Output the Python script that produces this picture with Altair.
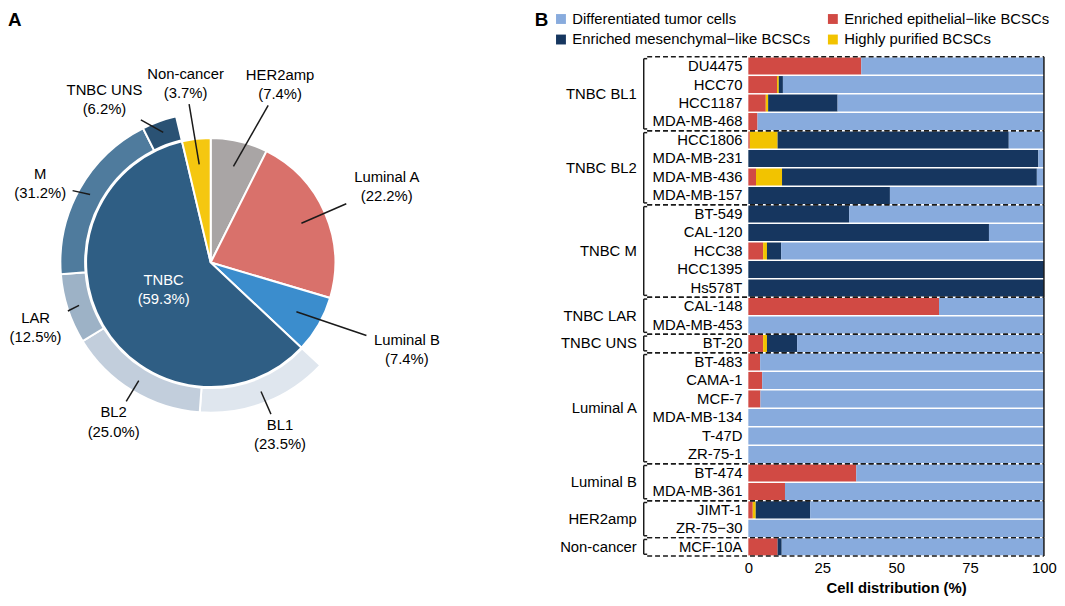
import math
import altair as alt
import pandas as pd

# ---------------- data ----------------
pie_labels = ["HER2amp", "Luminal A", "Luminal B", "TNBC", "Non-cancer"]
pie_values = [7.4, 22.2, 7.4, 59.3, 3.7]

ring_labels = ["BL1", "BL2", "LAR", "M", "TNBC UNS"]
ring_values = [23.5, 25.0, 12.5, 31.2, 6.2]

group_names = ["TNBC BL1", "TNBC BL2", "TNBC M", "TNBC LAR", "TNBC UNS",
               "Luminal A", "Luminal B", "HER2amp", "Non-cancer"]
group_sizes = [4, 4, 5, 2, 1, 6, 2, 2, 1]

cells = ["DU4475", "HCC70", "HCC1187", "MDA-MB-468",
         "HCC1806", "MDA-MB-231", "MDA-MB-436", "MDA-MB-157",
         "BT-549", "CAL-120", "HCC38", "HCC1395", "Hs578T",
         "CAL-148", "MDA-MB-453",
         "BT-20",
         "BT-483", "CAMA-1", "MCF-7", "MDA-MB-134", "T-47D", "ZR-75-1",
         "BT-474", "MDA-MB-361",
         "JIMT-1", "ZR-75\u221230",
         "MCF-10A"]

epithelial = [38.2, 9.7, 5.9, 3.1,
              0.5, 0.0, 2.6, 0.0,
              0.0, 0.0, 5.0, 0.0, 0.0,
              64.5, 0.0,
              5.0,
              4.0, 4.7, 4.1, 0.0, 0.0, 0.0,
              36.5, 12.4,
              1.5, 0.0,
              9.9]
purified = [0.0, 0.6, 0.8, 0.0,
            9.4, 0.0, 8.8, 0.0,
            0.0, 0.0, 1.3, 0.0, 0.0,
            0.0, 0.0,
            1.3,
            0.0, 0.0, 0.0, 0.0, 0.0, 0.0,
            0.0, 0.0,
            1.0, 0.0,
            0.0]
mesenchymal = [0.0, 1.4, 23.5, 0.0,
               78.2, 98.1, 86.2, 47.9,
               34.1, 81.4, 4.8, 100.0, 100.0,
               0.0, 0.0,
               10.2,
               0.0, 0.0, 0.0, 0.0, 0.0, 0.0,
               0.0, 0.0,
               18.4, 0.0,
               1.4]
differentiated = [61.8, 88.3, 69.8, 96.9,
                  11.9, 1.9, 2.4, 52.1,
                  65.9, 18.6, 88.9, 0.0, 0.0,
                  35.5, 100.0,
                  83.5,
                  96.0, 95.3, 95.9, 100.0, 100.0, 100.0,
                  63.5, 87.6,
                  79.1, 100.0,
                  88.7]

series_names = ["Differentiated tumor cells",
                "Enriched epithelial\u2212like BCSCs",
                "Enriched mesenchymal\u2212like BCSCs",
                "Highly purified BCSCs"]

# ---------------- styles ----------------
FONT = "Liberation Sans, Arial, Helvetica, sans-serif"
FS = 15
LH = 19.5
INK = "#1a1a1a"
series_color_map = {series_names[0]: "#88abdd", series_names[1]: "#d14a44",
                    series_names[2]: "#16365f", series_names[3]: "#f2c300"}
# legend is filled column by column: put entries so rows read as in the reference
legend_order = [series_names[0], series_names[2], series_names[1], series_names[3]]
pie_color_map = {"HER2amp": "#a9a5a5", "Luminal A": "#d9716b", "Luminal B": "#3b8dcd",
                 "TNBC": "#2f5e84", "Non-cancer": "#f5c710",
                 "BL1": "#dfe6ee", "BL2": "#c2cedc", "LAR": "#9db2c6",
                 "M": "#4f7b9d", "TNBC UNS": "#2a5274"}
# label nudges: (angle shift in degrees, label radius in px)
label_nudge = {"HER2amp": (8, 193), "Luminal A": (0, 194), "Luminal B": (-6, 217),
               "Non-cancer": (-1.3, 183), "M": (-4.5, 190), "TNBC UNS": (-13, 197),
               "LAR": (-2.4, 189), "BL1": (-0.6, 188), "BL2": (0, 189)}
R_LAB_DEFAULT = 190


def nudge_expr(idx, default):
    expr = str(default)
    for k, v in label_nudge.items():
        expr = f"(datum.label == '{k}' ? {v[idx]} : {expr})"
    return expr


# ---------------- tables ----------------
pie_df = pd.DataFrame({"label": pie_labels, "value": pie_values,
                       "ord": list(range(len(pie_labels)))})
ring_df = pd.DataFrame({"label": ring_labels, "value": ring_values,
                        "ord": list(range(len(ring_labels)))})

rows = []
stack_defs = [(series_names[1], epithelial, 0), (series_names[3], purified, 1),
              (series_names[2], mesenchymal, 2), (series_names[0], differentiated, 3)]
for i, c in enumerate(cells):
    for name, vals, order in stack_defs:
        rows.append({"cell": c, "idx": i, "series": name, "order": order, "value": vals[i]})
bar_df = pd.DataFrame(rows)
cell_df = pd.DataFrame({"cell": cells, "idx": list(range(len(cells)))})

grows = []
start = 0
for g, n in zip(group_names, group_sizes):
    grows.append({"group": g, "first": start, "last": start + n - 1})
    start += n
group_df = pd.DataFrame(grows)

# ---------------- layout ----------------
TOP_EXT = 46
W_PIE, H_PIE = 430, 420
CX, CY = 205, 208            # pie centre inside the left panel
R_PIE, R_IN, R_OUT = 126, 127, 152
W_BAR, H_BAR = 299, 505
X_BRACKET = -105.8
SPACING = 95.8

# ---------------- pie panel ----------------
tot = sum(pie_values)
ti = pie_labels.index("TNBC")
T0 = 2 * math.pi * sum(pie_values[:ti]) / tot
SPAN = 2 * math.pi * pie_values[ti] / tot

px = alt.Scale(domain=[-CX, W_PIE - CX], nice=False, zero=False)
py = alt.Scale(domain=[CY - H_PIE, CY], nice=False, zero=False)
pie_color = alt.Color("label:N", legend=None,
                      scale=alt.Scale(domain=list(pie_color_map.keys()),
                                      range=list(pie_color_map.values())))

pie_base = (alt.Chart(pie_df)
            .transform_window(cum="sum(value)", sort=[alt.SortField("ord")], frame=[None, 0])
            .transform_joinaggregate(total="sum(value)")
            .transform_calculate(a0="(datum.cum - datum.value) / datum.total * 2 * PI",
                                 a1="datum.cum / datum.total * 2 * PI")
            .transform_calculate(mid="(datum.a0 + datum.a1) / 2",
                                 pct="'(' + format(datum.value, '.1f') + '%)'")
            .transform_calculate(txt="datum.label + '\\n' + datum.pct"))

ring_base = (alt.Chart(ring_df)
             .transform_window(cum="sum(value)", sort=[alt.SortField("ord")], frame=[None, 0])
             .transform_joinaggregate(total="sum(value)")
             .transform_calculate(a0=f"{T0} + (datum.cum - datum.value) / datum.total * {SPAN}",
                                  a1=f"{T0} + datum.cum / datum.total * {SPAN}")
             .transform_calculate(mid="(datum.a0 + datum.a1) / 2",
                                  pct="'(' + format(datum.value, '.1f') + '%)'")
             .transform_calculate(txt="datum.label + '\\n' + datum.pct"))

pie_arcs = pie_base.mark_arc(outerRadius=R_PIE, stroke="white", strokeWidth=2).encode(
    theta=alt.Theta("a0:Q", scale=None), theta2="a1:Q", color=pie_color,
    x=alt.value(CX), y=alt.value(CY))
ring_arcs = ring_base.mark_arc(innerRadius=R_IN, outerRadius=R_OUT, stroke="white",
                               strokeWidth=2).encode(
    theta=alt.Theta("a0:Q", scale=None), theta2="a1:Q", color=pie_color,
    x=alt.value(CX), y=alt.value(CY))


def polar(base, r_start):
    return (base
            .transform_calculate(lang=f"datum.mid + ({nudge_expr(0, 0)}) * PI / 180",
                                 rl=nudge_expr(1, R_LAB_DEFAULT),
                                 hw="max(length(datum.label), length(datum.pct)) * 4.1 + 4")
            .transform_calculate(lx="datum.rl * sin(datum.lang)",
                                 ly="datum.rl * cos(datum.lang)",
                                 sx=f"{r_start} * sin(datum.mid)",
                                 sy=f"{r_start} * cos(datum.mid)")
            .transform_calculate(dx="datum.lx - datum.sx", dy="datum.ly - datum.sy")
            .transform_calculate(s="min(datum.hw / (abs(datum.dx) + 0.001), 21 / (abs(datum.dy) + 0.001))")
            .transform_calculate(ex="datum.lx - datum.s * datum.dx",
                                 ey="datum.ly - datum.s * datum.dy"))


outer_pie = polar(pie_base.transform_filter("datum.label != 'TNBC'"), 100)
outer_ring = polar(ring_base, 140)


def leader(b):
    return b.mark_rule(color=INK, strokeWidth=1.5).encode(
        x=alt.X("sx:Q", scale=px, axis=None), y=alt.Y("sy:Q", scale=py, axis=None),
        x2="ex:Q", y2="ey:Q")


def label(b, color="black"):
    # two-line labels: shift up half a line so the block is centred on its anchor
    return b.mark_text(lineBreak="\n", fontSize=FS, lineHeight=LH, align="center",
                       baseline="middle", dy=-LH / 2, color=color).encode(
        x=alt.X("lx:Q", scale=px, axis=None), y=alt.Y("ly:Q", scale=py, axis=None),
        text="txt:N")


tnbc_label = label(pie_base.transform_filter("datum.label == 'TNBC'")
                   .transform_calculate(lx="55 * sin(datum.mid)", ly="55 * cos(datum.mid)"),
                   color="white")

panel_a = alt.Chart(pd.DataFrame({"t": ["A"]})).mark_text(
    align="left", baseline="top", fontSize=19, fontWeight="bold", color="black").encode(
    x=alt.value(0), y=alt.value(-TOP_EXT), text="t:N")

pie_panel = alt.layer(pie_arcs, ring_arcs, leader(outer_pie), leader(outer_ring),
                      label(outer_pie), label(outer_ring), tnbc_label, panel_a
                      ).properties(width=W_PIE, height=H_PIE)

# ---------------- bar panel ----------------
yscale = alt.Scale(domain=[-0.5, len(cells) - 0.5], reverse=True, nice=False, zero=False)
xscale = alt.Scale(domain=[0, 100], nice=False, zero=False)

bars = (alt.Chart(bar_df)
        .transform_stack(stack="value", groupby=["cell"], as_=["x0", "x1"],
                         sort=[alt.SortField("order", order="ascending")])
        .transform_calculate(y0="datum.idx - 0.46", y1="datum.idx + 0.46")
        .mark_rect()
        .encode(
            x=alt.X("x0:Q", scale=xscale, title="Cell distribution (%)",
                    axis=alt.Axis(values=[0, 25, 50, 75, 100], ticks=False, tickSize=0,
                                  domain=False, grid=False, labelFontSize=FS,
                                  titleFontSize=FS, titleFontWeight="bold",
                                  labelPadding=5, titlePadding=5, labelFlush=False,
                                  labelColor="black", titleColor="black")),
            x2="x1:Q",
            y=alt.Y("y0:Q", scale=yscale, axis=None),
            y2="y1:Q",
            color=alt.Color("series:N",
                            scale=alt.Scale(domain=legend_order,
                                            range=[series_color_map[s] for s in legend_order]),
                            legend=alt.Legend(title=None, orient="none", legendX=-197,
                                              legendY=-TOP_EXT, columns=2,
                                              symbolType="square", symbolSize=100,
                                              symbolStrokeWidth=0, labelFontSize=FS,
                                              labelOffset=4, columnPadding=15,
                                              rowPadding=5, labelLimit=400,
                                              labelColor="black"))))

cell_labels = alt.Chart(cell_df).mark_text(align="right", baseline="middle", fontSize=FS,
                                           color="black").encode(
    x=alt.value(-6), y=alt.Y("idx:Q", scale=yscale, axis=None), text="cell:N")

gbase = alt.Chart(group_df).transform_calculate(
    mid="(datum.first + datum.last) / 2",
    t0="datum.first - 0.5", t1="datum.last + 0.5",
    bt="datum.first - 0.5 + 0.1", bb="datum.last + 0.5 - 0.1")

group_labels = gbase.mark_text(align="right", baseline="middle", fontSize=FS,
                               color="black").encode(
    x=alt.value(-112.8), y=alt.Y("mid:Q", scale=yscale, axis=None), text="group:N")

bracket = gbase.mark_rule(color=INK, strokeWidth=1.5).encode(
    x=alt.value(X_BRACKET), y=alt.Y("bt:Q", scale=yscale, axis=None), y2="bb:Q")
serif_top = gbase.mark_rule(color=INK, strokeWidth=1.5).encode(
    x=alt.value(X_BRACKET), x2=alt.value(X_BRACKET + 3.5),
    y=alt.Y("bt:Q", scale=yscale, axis=None))
serif_bot = gbase.mark_rule(color=INK, strokeWidth=1.5).encode(
    x=alt.value(X_BRACKET), x2=alt.value(X_BRACKET + 3.5),
    y=alt.Y("bb:Q", scale=yscale, axis=None))

dash_top = gbase.mark_rule(color=INK, strokeWidth=1.5, strokeDash=[5, 3]).encode(
    x=alt.value(X_BRACKET + 3.5), x2=alt.value(W_BAR),
    y=alt.Y("t0:Q", scale=yscale, axis=None))
dash_bot = gbase.mark_rule(color=INK, strokeWidth=1.5, strokeDash=[5, 3]).encode(
    x=alt.value(X_BRACKET + 3.5), x2=alt.value(W_BAR),
    y=alt.Y("t1:Q", scale=yscale, axis=None))
right_edge = gbase.mark_rule(color=INK, strokeWidth=1.5).encode(
    x=alt.value(W_BAR), y=alt.Y("t0:Q", scale=yscale, axis=None), y2="t1:Q")

panel_b = alt.Chart(pd.DataFrame({"t": ["B"]})).mark_text(
    align="left", baseline="top", fontSize=19, fontWeight="bold", color="black").encode(
    x=alt.value(-216), y=alt.value(-TOP_EXT), text="t:N")

bar_panel = alt.layer(bars, cell_labels, group_labels, bracket, serif_top, serif_bot,
                      dash_top, dash_bot, right_edge, panel_b
                      ).properties(width=W_BAR, height=H_BAR)

chart = (alt.hconcat(pie_panel, bar_panel, spacing=SPACING)
         .resolve_scale(color="independent")
         .properties(padding=0)
         .configure(font=FONT)
         .configure_view(stroke=None))

chart.save("out.html", embed_options={"renderer": "svg", "actions": False})
